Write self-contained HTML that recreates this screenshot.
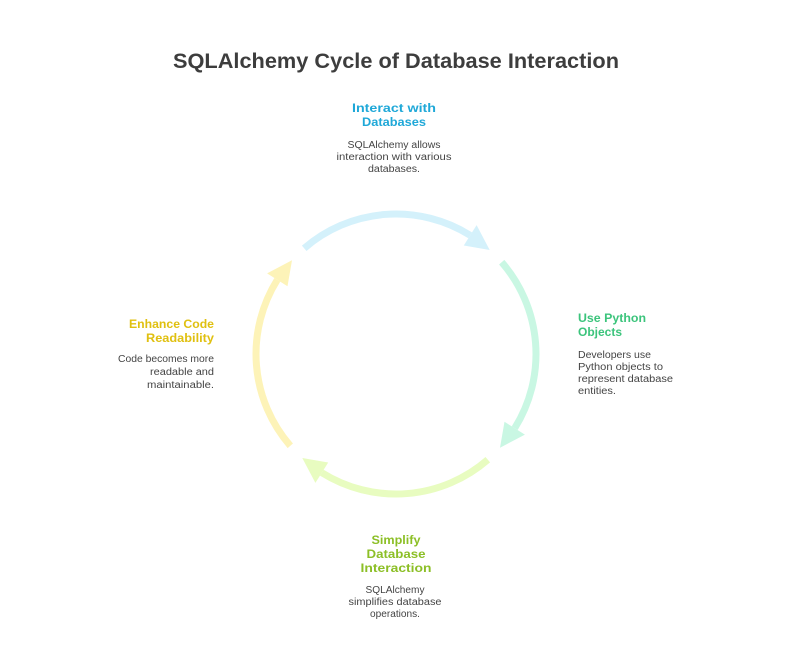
<!DOCTYPE html>
<html><head><meta charset="utf-8"><style>
html,body{margin:0;padding:0;background:#fff;}
svg{display:block;}
text{font-family:"Liberation Sans",sans-serif;}
.h{font-weight:bold;font-size:12px;}
.d{font-size:10px;fill:#444;}
</style></head><body>
<svg width="792" height="666" viewBox="0 0 792 666" xmlns="http://www.w3.org/2000/svg">
<rect width="792" height="666" fill="#fff"/>
<text x="396" y="68" text-anchor="middle" font-size="21" font-weight="bold" fill="#3d3d3d" textLength="446" lengthAdjust="spacingAndGlyphs">SQLAlchemy Cycle of Database Interaction</text>

<g fill="none" stroke-width="7">
<path d="M304.2,248.3 A140,140 0 0 1 470.2,235.3" stroke="#d4f1fb"/>
<path d="M501.7,262.2 A140,140 0 0 1 514.7,428.2" stroke="#c9f7e3"/>
<path d="M487.8,459.7 A140,140 0 0 1 321.8,472.7" stroke="#e8fcc0"/>
<path d="M290.3,445.8 A140,140 0 0 1 277.3,279.8" stroke="#fdf3b8"/>
</g>
<polygon points="489.7,250 476.6,225.1 463.8,245.5" fill="#d4f1fb"/>
<polygon points="500,447.7 524.9,434.6 504.5,421.8" fill="#c9f7e3"/>
<polygon points="302.3,458 315.4,482.9 328.2,462.5" fill="#e8fcc0"/>
<polygon points="292,260.3 267.1,273.4 287.5,286.2" fill="#fdf3b8"/>

<g text-anchor="middle" lengthAdjust="spacingAndGlyphs">
<text class="h" x="394" y="112" fill="#1fa8d8" textLength="84" lengthAdjust="spacingAndGlyphs">Interact with</text>
<text class="h" x="394" y="126" fill="#1fa8d8" textLength="64" lengthAdjust="spacingAndGlyphs">Databases</text>
<text class="d" x="394" y="148" textLength="93" lengthAdjust="spacingAndGlyphs">SQLAlchemy allows</text>
<text class="d" x="394" y="160" textLength="115" lengthAdjust="spacingAndGlyphs">interaction with various</text>
<text class="d" x="394" y="172" textLength="52" lengthAdjust="spacingAndGlyphs">databases.</text>
</g>

<g>
<text class="h" x="578" y="322" fill="#3cc47c" textLength="68" lengthAdjust="spacingAndGlyphs">Use Python</text>
<text class="h" x="578" y="336" fill="#3cc47c" textLength="44" lengthAdjust="spacingAndGlyphs">Objects</text>
<text class="d" x="578" y="358" textLength="73" lengthAdjust="spacingAndGlyphs">Developers use</text>
<text class="d" x="578" y="370" textLength="85" lengthAdjust="spacingAndGlyphs">Python objects to</text>
<text class="d" x="578" y="382" textLength="95" lengthAdjust="spacingAndGlyphs">represent database</text>
<text class="d" x="578" y="394" textLength="38" lengthAdjust="spacingAndGlyphs">entities.</text>
</g>

<g text-anchor="middle">
<text class="h" x="396" y="544" fill="#8cbf26" textLength="49" lengthAdjust="spacingAndGlyphs">Simplify</text>
<text class="h" x="396" y="558" fill="#8cbf26" textLength="59" lengthAdjust="spacingAndGlyphs">Database</text>
<text class="h" x="396" y="572" fill="#8cbf26" textLength="71" lengthAdjust="spacingAndGlyphs">Interaction</text>
<text class="d" x="395" y="593" textLength="59" lengthAdjust="spacingAndGlyphs">SQLAlchemy</text>
<text class="d" x="395" y="605" textLength="93" lengthAdjust="spacingAndGlyphs">simplifies database</text>
<text class="d" x="395" y="617" textLength="50" lengthAdjust="spacingAndGlyphs">operations.</text>
</g>

<g text-anchor="end">
<text class="h" x="214" y="328" fill="#e0c010" textLength="85" lengthAdjust="spacingAndGlyphs">Enhance Code</text>
<text class="h" x="214" y="342" fill="#e0c010" textLength="68" lengthAdjust="spacingAndGlyphs">Readability</text>
<text class="d" x="214" y="362" textLength="96" lengthAdjust="spacingAndGlyphs">Code becomes more</text>
<text class="d" x="214" y="375" textLength="64" lengthAdjust="spacingAndGlyphs">readable and</text>
<text class="d" x="214" y="388" textLength="67" lengthAdjust="spacingAndGlyphs">maintainable.</text>
</g>
</svg>
</body></html>
